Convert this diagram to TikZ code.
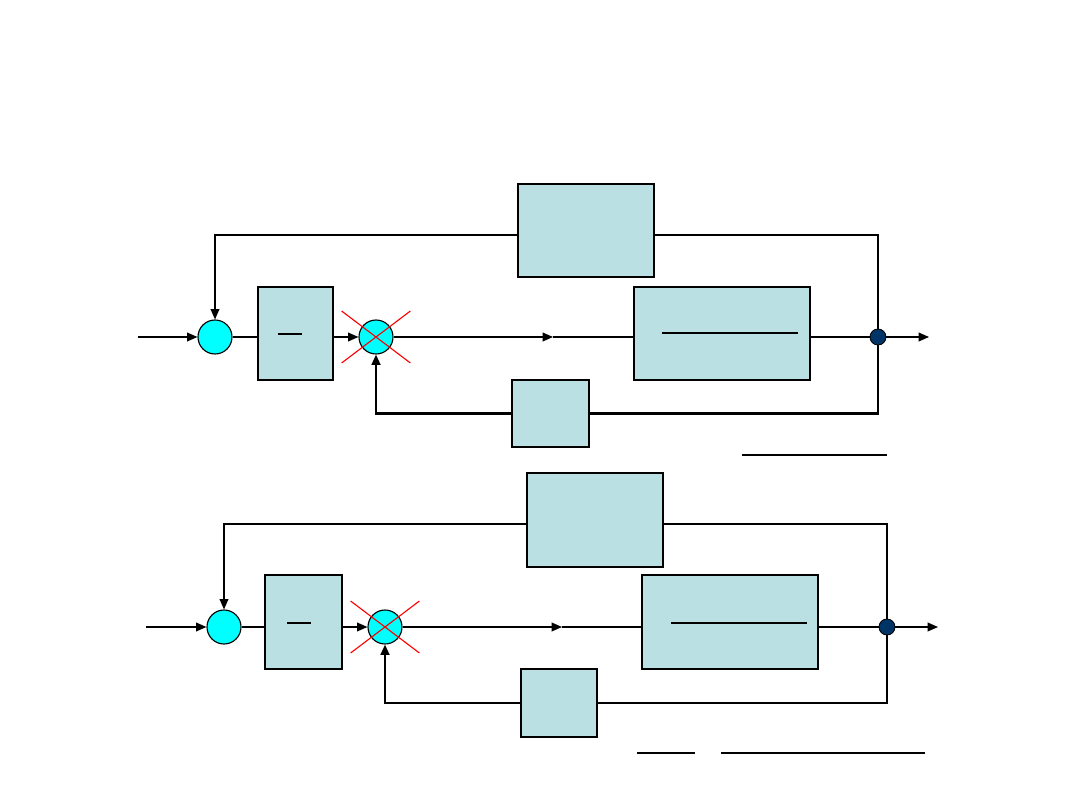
\documentclass[tikz,border=0pt]{standalone}
\usepackage{tikz}
\usetikzlibrary{arrows.meta,calc,positioning}
\definecolor{blockblue}{RGB}{187,224,227}
\definecolor{sumcyan}{RGB}{0,255,255}
\definecolor{joinnavy}{RGB}{0,51,102}
\tikzset{
  wire/.style={black, line width=0.9pt},
  thickwire/.style={black, line width=1.6pt},
  flow/.style={-{Triangle[length=2.6mm,width=2.2mm]}, line width=0.9pt},
  thickflow/.style={flow, line width=1.6pt},
  block/.style={draw=black, line width=0.8pt, fill=blockblue,
                inner sep=0pt},
  sumnode/.style={circle, draw=black, line width=0.8pt, fill=sumcyan,
                  minimum size=8.5mm, inner sep=0pt},
  joint/.style={circle, draw=black, line width=0.6pt, fill=joinnavy,
                minimum size=4mm, inner sep=0pt},
  cross/.style={red, line width=0.8pt},
  fracbar/.style={black, line width=0.8pt},
}
\begin{document}
\begin{tikzpicture}[x=0.25mm,y=-0.25mm]
  \path[use as bounding box] (0,0) rectangle (1080,810);

  % Upper loop.
  \node[sumnode] (S1) at (215,337) {};
  \node[block, minimum width=18.75mm, minimum height=23.25mm] (G1) at (295.5,333.5) {};
  \node[sumnode] (S2) at (376,337) {};
  \node[block, minimum width=44mm, minimum height=23.25mm] (G2) at (722,333.5) {};
  \node[block, minimum width=34mm, minimum height=23.25mm] (B1) at (586,230.5) {};
  \node[block, minimum width=19.25mm, minimum height=16.75mm] (H1) at (550.5,413.5) {};
  \node[joint] (J1) at (878,337) {};
  \coordinate (in1) at (138,337);
  \coordinate (mid1) at (553,337);
  \coordinate (out1) at (929,337);
  \draw[fracbar] (278,334) -- (302,334);
  \draw[fracbar] (662,333) -- (798,333);
  \draw[flow] (in1) -- (S1.west);
  \draw[wire] (S1.east) -- (S1.east -| G1.west);
  \draw[flow] (S2.west -| G1.east) -- (S2.west);
  \draw[flow] (S2.east) -- (mid1);
  \draw[wire] (mid1) -- (mid1 -| G2.west);
  \draw[wire] (J1.west -| G2.east) -- (J1.west);
  \draw[flow] (J1.east) -- (out1);
  \draw[flow] ([yshift=-1.1mm]B1.west) -| (S1.north);
  \draw[wire] ([yshift=-1.1mm]B1.east) -| (J1.north);
  \draw[thickwire] (J1.south) |- (H1.east);
  \draw[thickflow] (H1.west) -| (S2.south);
  \draw[cross] ([shift={(-8.6mm,6.5mm)}]S2.center) -- ([shift={(8.6mm,-6.5mm)}]S2.center);
  \draw[cross] ([shift={(-8.6mm,-6.5mm)}]S2.center) -- ([shift={(8.6mm,6.5mm)}]S2.center);
  \draw[fracbar] (742,455) -- (887,455);

  % Lower loop.
  \node[sumnode] (S3) at (224,627) {};
  \node[block, minimum width=19.25mm, minimum height=23.5mm] (G3) at (303.5,622) {};
  \node[sumnode] (S4) at (385,627) {};
  \node[block, minimum width=44mm, minimum height=23.5mm] (G4) at (730,622) {};
  \node[block, minimum width=34mm, minimum height=23.5mm] (B2) at (595,520) {};
  \node[block, minimum width=19mm, minimum height=17mm] (H2) at (559,703) {};
  \node[joint] (J2) at (887,627) {};
  \coordinate (in2) at (146,627);
  \coordinate (mid2) at (562,627);
  \coordinate (out2) at (938,627);
  \draw[fracbar] (287,623) -- (311,623);
  \draw[fracbar] (671,623) -- (807,623);
  \draw[flow] (in2) -- (S3.west);
  \draw[wire] (S3.east) -- (S3.east -| G3.west);
  \draw[flow] (S4.west -| G3.east) -- (S4.west);
  \draw[flow] (S4.east) -- (mid2);
  \draw[wire] (mid2) -- (mid2 -| G4.west);
  \draw[wire] (J2.west -| G4.east) -- (J2.west);
  \draw[flow] (J2.east) -- (out2);
  \draw[flow] ([yshift=-1mm]B2.west) -| (S3.north);
  \draw[wire] ([yshift=-1mm]B2.east) -| (J2.north);
  \draw[thickwire] (J2.south) |- (H2.east);
  \draw[thickflow] (H2.west) -| (S4.south);
  \draw[cross] ([shift={(-8.6mm,6.5mm)}]S4.center) -- ([shift={(8.6mm,-6.5mm)}]S4.center);
  \draw[cross] ([shift={(-8.6mm,-6.5mm)}]S4.center) -- ([shift={(8.6mm,6.5mm)}]S4.center);
  \draw[fracbar] (637,753) -- (695,753);
  \draw[fracbar] (721,753) -- (925,753);
\end{tikzpicture}
\end{document}
